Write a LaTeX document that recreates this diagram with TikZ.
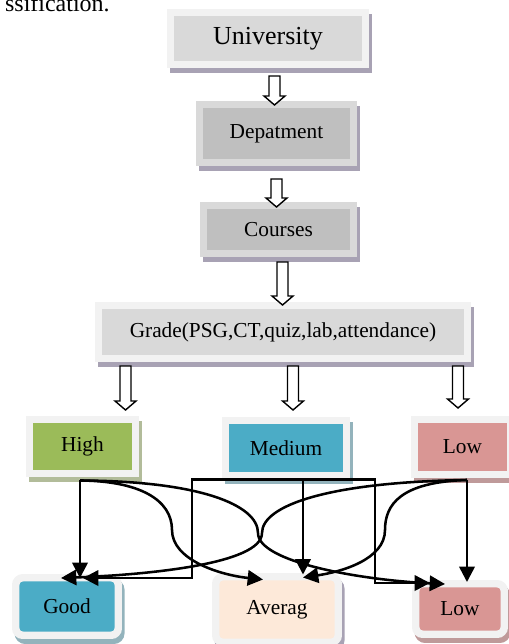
\documentclass[tikz,border=0pt]{standalone}
\usepackage{fontspec}
\setmainfont{Liberation Serif}
\usetikzlibrary{arrows.meta,calc}
\definecolor{lgray}{HTML}{F2F2F2}
\definecolor{mgray}{HTML}{D9D9D9}
\definecolor{dgray}{HTML}{BFBFBF}
\definecolor{shpurple}{HTML}{A8A2B4}
\definecolor{hgreen}{HTML}{9BBB59}
\definecolor{shgreen}{HTML}{B2BC9A}
\definecolor{mblue}{HTML}{4BACC6}
\definecolor{shblue}{HTML}{93B3BC}
\definecolor{lpink}{HTML}{D99694}
\definecolor{shpink}{HTML}{BF9A9A}
\definecolor{apeach}{HTML}{FDE9D9}
\newcommand{\hollowarrow}[3]{%
  \draw[harrow] (#1-5.5,#2) -- (#1+5.5,#2) -- (#1+5.5,#3-9) -- (#1+10.5,#3-9)
    -- (#1,#3) -- (#1-10.5,#3-9) -- (#1-5.5,#3-9) -- cycle;}
\tikzset{
  gbox/.style n args={3}{fill=#1, draw=#2, line width=5.6pt,
    preaction={draw=#3, fill=#3, line width=5.6pt,
      transform canvas={xshift=1.9pt,yshift=-3.75pt}},
    inner sep=0pt, font=\fontsize{16}{19}\selectfont},
  rbox/.style n args={3}{gbox={#1}{#2}{#3}, rounded corners=5.25pt},
  conn/.style={draw=black, line width=1.9pt,
    -{Triangle[length=11.5pt,width=11.5pt]}},
  harrow/.style={draw=black, fill=white, line width=1.05pt, line join=miter}
}
\begin{document}
\begin{tikzpicture}[x=0.75pt,y=-0.75pt]
\useasboundingbox (0,0) rectangle (509,644);
\begin{scope}
\clip (0,0) rectangle (509,644);
\node[anchor=base east, font=\fontsize{18}{20}\selectfont, inner sep=0pt] (cap) at (110,11) {ssification.};

% boxes
\node[gbox={mgray}{lgray}{shpurple}, minimum width=194.5*0.75pt, minimum height=51.5*0.75pt,
  font=\fontsize{19.5}{22}\selectfont] (univ) at (268,38.5) {University};
\node[gbox={dgray}{mgray}{shpurple}, minimum width=153.5*0.75pt, minimum height=57.5*0.75pt] (dept) at (276.5,133.5) {Depatment};
\node[gbox={dgray}{mgray}{shpurple}, minimum width=149.5*0.75pt, minimum height=47.5*0.75pt] (courses) at (278.5,229.5) {Courses};
\node[gbox={mgray}{lgray}{shpurple}, minimum width=368.5*0.75pt, minimum height=52.5*0.75pt] (grade) at (283,332) {Grade(PSG,CT,quiz,lab,attendance)};
\node[gbox={hgreen}{lgray}{shgreen}, minimum width=105.5*0.75pt, minimum height=53.5*0.75pt] (high) at (82.5,446.5) {High};
\node[gbox={mblue}{lgray}{shblue}, minimum width=120.5*0.75pt, minimum height=54.5*0.75pt] (medium) at (286,448) {Medium};
\node[gbox={lpink}{lgray}{shpink}, minimum width=95.5*0.75pt, minimum height=54.5*0.75pt] (low) at (462.5,447) {Low};
\node[rbox={mblue}{lgray}{shblue}, minimum width=102.5*0.75pt, minimum height=57.5*0.75pt] (good) at (67,606.5) {Good};
\node[rbox={apeach}{lgray}{shpurple}, minimum width=122.5*0.75pt, minimum height=65.5*0.75pt] (averag) at (277,609.5) {Averag};
\node[rbox={lpink}{lgray}{shpink}, minimum width=88.5*0.75pt, minimum height=50.5*0.75pt] (lowb) at (460,609) {Low};
\end{scope}

% hollow arrows
\hollowarrow{274.5}{76}{105}
\hollowarrow{276.5}{179}{207}
\hollowarrow{282.5}{262}{305}
\hollowarrow{125.5}{366}{410}
\hollowarrow{293}{366}{410}
\hollowarrow{458}{366}{408}

% connector end points
\coordinate (hs) at ($(high.south)+(-2.5,3.5)$);
\coordinate (ms) at ($(medium.south)+(17,0.5)$);
\coordinate (ls) at ($(low.south)+(4.5,2)$);
\coordinate (gd1) at ($(good.north)+(12,4)$);
\coordinate (gd2) at ($(good.north)+(-6,4)$);
\coordinate (gd3) at ($(good.north)+(16,4)$);
\coordinate (av1) at ($(averag.north)+(-14,6.5)$);
\coordinate (av2) at ($(averag.north)+(26,1.5)$);
\coordinate (av3) at ($(averag.north)+(26,4.5)$);
\coordinate (lw1) at ($(lowb.north)+(-30,3)$);
\coordinate (lw2) at ($(lowb.north)+(-15,4)$);
\coordinate (lw3) at ($(lowb.north)+(7,2)$);

% connectors
\draw[conn] (hs) -- (hs |- gd1);
\draw[conn] (hs) .. controls (140,481) and (172,500) .. (172,530)
  .. controls (172,560) and (220,575) .. (av1);
\draw[conn] (hs) .. controls (200,481) and (258,505) .. (258,533)
  .. controls (258,562) and (360,580) .. (lw2);
\draw[conn] (ms) -- ++(-111,0) |- (gd3);
\draw[conn] (ms) -- (av2);
\draw[conn] (ms) -- ++(72,0) |- (lw1);
\draw[conn] (ls) .. controls (330,482) and (262,505) .. (262,533)
  .. controls (262,565) and (140,575) .. (gd2);
\draw[conn] (ls) .. controls (400,482) and (385,505) .. (385,530)
  .. controls (385,560) and (340,572) .. (av3);
\draw[conn] (ls) -- (ls |- lw3);
\end{tikzpicture}
\end{document}
